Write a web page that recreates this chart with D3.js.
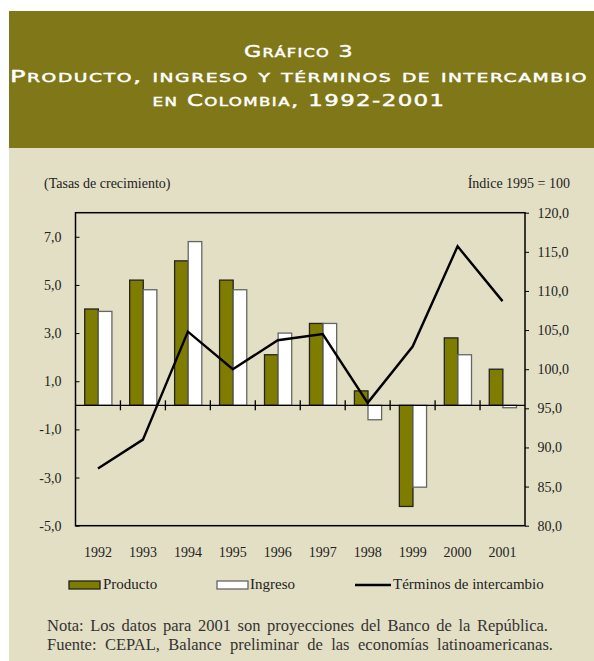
<!DOCTYPE html>
<html><head><meta charset="utf-8">
<script src="https://cdn.jsdelivr.net/npm/d3@7"></script>
<style>
html,body{margin:0;padding:0;background:#fff;}
svg{display:block;}
.serif{font-family:"Liberation Serif","Times New Roman",Times,serif;}
</style></head>
<body>
<svg id="c" width="594" height="661"></svg>
<script>
const years = ["1992","1993","1994","1995","1996","1997","1998","1999","2000","2001"];
const producto = [4.0, 5.2, 6.0, 5.2, 2.1, 3.4, 0.6, -4.2, 2.8, 1.5];
const ingreso  = [3.9, 4.8, 6.8, 4.8, 3.0, 3.4, -0.6, -3.4, 2.1, -0.1];
const terminos = [87.3, 91.0, 104.8, 100.0, 103.7, 104.5, 95.7, 102.9, 115.7, 108.7];
const leftTicks = [7, 5, 3, 1, -1, -3, -5];
const rightTicks = [120, 115, 110, 105, 100, 95, 90, 85, 80];
const titleLines = ["Gráfico 3", "Producto, ingreso y términos de intercambio", "en Colombia, 1992-2001"];
const seriesNames = ["Producto", "Ingreso", "Términos de intercambio"];

const svg = d3.select("#c");
const olive = "#807818", beige = "#e3dfc4", barOlive = "#7f7d00";

svg.append("rect").attr("x",9).attr("y",11).attr("width",585).attr("height",137).attr("fill",olive);
svg.append("rect").attr("x",9).attr("y",148).attr("width",585).attr("height",513).attr("fill",beige);

// title
const tY = [57, 82, 106], tLen = [110, 578, 293];
titleLines.forEach((t,i)=>{
  svg.append("text").attr("x",299).attr("y",tY[i]).attr("text-anchor","middle")
    .attr("fill","#fff").attr("stroke","#fff").attr("stroke-width",0.45)
    .style("font-family","'DejaVu Sans', sans-serif")
    .attr("font-size",16.5).style("font-variant","small-caps").attr("letter-spacing",1)
    .attr("textLength",tLen[i]).attr("lengthAdjust","spacingAndGlyphs")
    .text(t);
});

const L = 75.5, R = 525, T = 212.7, B = 525.7;
const x = d3.scaleBand().domain(years).range([L, R]).padding(0);
const yL = d3.scaleLinear().domain([-5, 8]).range([B, T]);
const yR = d3.scaleLinear().domain([80, 120]).range([B, T]);
const bw = x.bandwidth();
const xs = d3.scaleBand().domain(["P","I"]).range([bw*0.205, bw*0.81]).padding(0);

const g = svg.append("g");

// bars
const data = years.map((yr,i)=>({yr, P: producto[i], I: ingreso[i]}));
["P","I"].forEach(k=>{
  g.selectAll(".b"+k).data(data).enter().append("rect")
    .attr("x", d=>x(d.yr)+xs(k))
    .attr("width", xs.bandwidth())
    .attr("y", d=>yL(Math.max(0,d[k])))
    .attr("height", d=>Math.abs(yL(d[k])-yL(0)))
    .attr("fill", k==="P"?barOlive:"#fff")
    .attr("stroke", k==="P"?"#222":"#666")
    .attr("stroke-width", 1.3);
});

// zero line and ticks
g.append("line").attr("x1",L).attr("x2",R).attr("y1",yL(0)).attr("y2",yL(0)).attr("stroke","#000").attr("stroke-width",1.3);
g.selectAll(".xt").data(years.slice(1)).enter().append("line")
  .attr("x1",d=>x(d)).attr("x2",d=>x(d)).attr("y1",yL(0)-5).attr("y2",yL(0)+5)
  .attr("stroke","#000").attr("stroke-width",1.3);

// frame
g.append("rect").attr("x",L).attr("y",T).attr("width",R-L).attr("height",B-T)
  .attr("fill","none").attr("stroke","#000").attr("stroke-width",1.5);

const styleText = (sel, fs) => sel.attr("class","serif").attr("font-family",null).style("font-size",(fs||14)+"px").attr("fill","#222");

// left axis
const fmt = d=>d3.format(".1f")(d).replace(".",",").replace("−","-");
const la = d3.axisLeft(yL).tickValues(leftTicks).tickSize(-4).tickPadding(14).tickFormat(fmt);
const lag = svg.append("g").attr("transform",`translate(${L},0)`).call(la).attr("font-family",null);
lag.select(".domain").remove();
styleText(lag.selectAll("text"), 14);
lag.selectAll("line").attr("stroke","#000");

const ra = d3.axisRight(yR).tickValues(rightTicks).tickSize(4).tickPadding(8.5).tickFormat(fmt);
const rag = svg.append("g").attr("transform",`translate(${R},0)`).call(ra).attr("font-family",null);
rag.select(".domain").remove();
styleText(rag.selectAll("text"), 14);
rag.selectAll("line").attr("stroke","#000");

// year labels
const xa = d3.axisBottom(x).tickSize(0).tickPadding(21);
const xag = svg.append("g").attr("transform",`translate(0,${B})`).call(xa).attr("font-family",null);
xag.select(".domain").remove();
styleText(xag.selectAll("text"), 14);

// line
const line = d3.line().x((d,i)=>x(years[i])+bw/2).y(d=>yR(d));
g.append("path").datum(terminos).attr("d",line).attr("fill","none")
  .attr("stroke","#000").attr("stroke-width",2.4).attr("stroke-linejoin","miter");

// axis titles
styleText(svg.append("text").attr("x",44).attr("y",188), 14).text("(Tasas de crecimiento)");
styleText(svg.append("text").attr("x",570).attr("y",188).attr("text-anchor","end"), 14).text("Índice 1995 = 100");

// legend
const lg = svg.append("g");
lg.append("rect").attr("x",69).attr("y",581).attr("width",31).attr("height",8).attr("fill",barOlive).attr("stroke","#222").attr("stroke-width",1.3);
styleText(lg.append("text").attr("x",103).attr("y",589), 15).text(seriesNames[0]);
lg.append("rect").attr("x",217).attr("y",581).attr("width",31).attr("height",8).attr("fill","#fff").attr("stroke","#666").attr("stroke-width",1.3);
styleText(lg.append("text").attr("x",250).attr("y",589), 15).text(seriesNames[1]);
lg.append("line").attr("x1",355).attr("x2",391).attr("y1",585).attr("y2",585).attr("stroke","#000").attr("stroke-width",2.4);
styleText(lg.append("text").attr("x",393).attr("y",589), 15).text(seriesNames[2]);

// notes: font sized toward the reference width, remainder as word spacing
const notes = [["Nota: Los datos para 2001 son proyecciones del Banco de la República.", 631, 501],
               ["Fuente: CEPAL, Balance preliminar de las economías latinoamericanas.", 650, 506]];
notes.forEach(([t, yy, w])=>{
  const el = styleText(svg.append("text").attr("x",47).attr("y",yy), 15).attr("fill","#333").text(t);
  let cur = el.node().getComputedTextLength();
  const fs = Math.min(16.5, 15 * w / cur);
  el.style("font-size", fs+"px");
  cur = el.node().getComputedTextLength();
  const gaps = t.split(" ").length - 1;
  el.style("word-spacing", Math.max(0,(w - cur)/gaps).toFixed(2)+"px");
});
</script>
</body></html>
